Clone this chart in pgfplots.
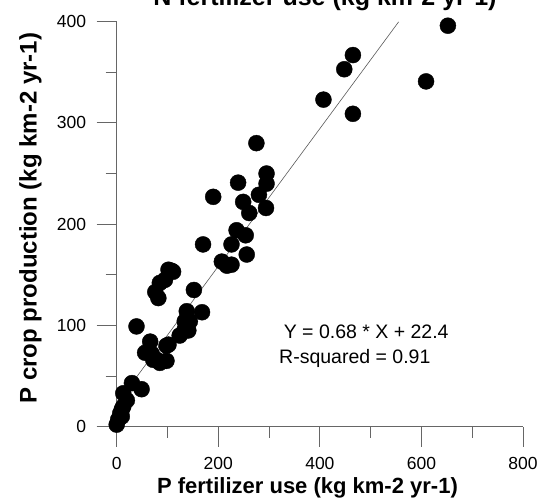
\documentclass[border=0pt]{standalone}
\usepackage{pgfplots}
\pgfplotsset{compat=1.18}
\usepackage{fontspec}
\setmainfont{Liberation Sans}
\begin{document}
\begin{tikzpicture}
\begin{axis}[
  x=0.508pt, y=1.0125pt,
  axis lines=middle,
  axis line style={-, draw=black!60, line width=0.9pt},
  xmin=-39, xmax=800, ymin=-8, ymax=400,
  xtick={0,200,400,600,800}, ytick={0,100,200,300,400},
  minor xtick={100,300,500,700}, minor ytick={50,150,250,350},
  tick align=outside,
  major tick length=20pt, minor tick length=11pt,
  tick style={draw=black!60, line width=0.9pt},
  hide obscured x ticks=false, hide obscured y ticks=false,
  /pgf/number format/assume math mode=true,
  ticklabel style={font=\fontsize{17.5}{19}\selectfont, text=black},
  xticklabel style={yshift=-7pt},
  yticklabel style={xshift=-7pt},
  clip=false,
]
\addplot[draw=black!65, line width=0.6pt, forget plot] coordinates {(0,22.4) (555,399.8)};
\addplot[only marks, mark=*, mark size=8pt, mark options={fill=black, draw=black}] coordinates {
(0,2) (3,7) (7,13) (10,10) (10,17) (13,20) (13,33) (20,26) (30,43) (49,37) (39,99)
(56,73) (66,84) (69,72) (72,66) (79,66) (85,63) (98,65) (98,80) (102,81) (124,90)
(134,96) (141,95) (134,104) (144,104) (138,114) (168,113) (152,135) (82,127) (76,133)
(85,142) (95,145) (102,155) (108,154) (111,153)
(170,180) (207,163) (217,159) (226,160) (226,180) (236,194) (254,189) (256,170)
(190,227) (239,241) (249,222) (261,211) (275,280) (280,229) (294,216) (295,250) (295,240)
(407,323) (448,353) (465,367) (465,309) (609,341) (652,396)
};
\node[anchor=base west, font=\fontsize{19.5}{22}\selectfont] at (axis cs:322,87.3) {Y = 0.68 * X + 22.4};
\node[anchor=base west, font=\fontsize{19.5}{22}\selectfont] at (axis cs:313,61.9) {R-squared = 0.91};
\node[anchor=base, font=\fontsize{22}{24}\selectfont\bfseries] at (axis cs:375.6,-65.8) {P fertilizer use (kg km-2 yr-1)};
\node[anchor=base, rotate=90, font=\fontsize{24}{26}\selectfont\bfseries] at (axis cs:-157.5,206) {P crop production (kg km-2 yr-1)};
\node[anchor=base, font=\fontsize{25}{27}\selectfont\bfseries] at (axis cs:410,415.5) {N fertilizer use (kg km-2 yr-1)};
\coordinate (bl) at (axis cs:-229.7,-73.4);
\coordinate (tr) at (axis cs:827.4,421.4);
\end{axis}
\pgfresetboundingbox
\useasboundingbox (bl) rectangle (tr);
\end{tikzpicture}
\end{document}
